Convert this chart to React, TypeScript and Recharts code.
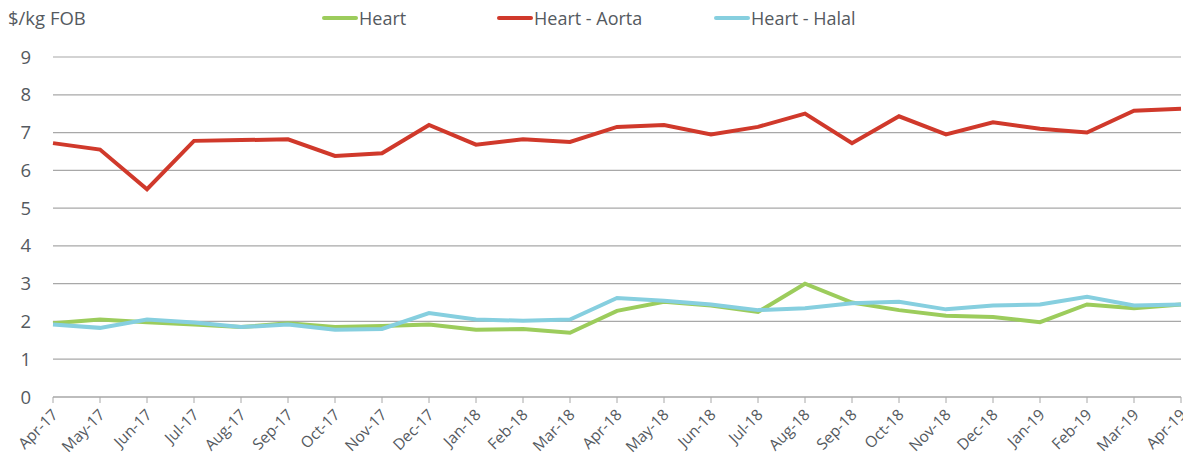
import React from "react";
import { LineChart, Line, XAxis, YAxis, CartesianGrid } from "recharts";

const months = [
  "Apr-17", "May-17", "Jun-17", "Jul-17", "Aug-17", "Sep-17", "Oct-17", "Nov-17", "Dec-17",
  "Jan-18", "Feb-18", "Mar-18", "Apr-18", "May-18", "Jun-18", "Jul-18", "Aug-18", "Sep-18",
  "Oct-18", "Nov-18", "Dec-18", "Jan-19", "Feb-19", "Mar-19", "Apr-19",
];

const heart = [
  1.95, 2.05, 1.98, 1.92, 1.85, 1.95, 1.85, 1.88, 1.92, 1.78, 1.8, 1.7, 2.28,
  2.52, 2.42, 2.25, 3.0, 2.5, 2.3, 2.15, 2.12, 1.98, 2.45, 2.35, 2.45,
];

const aorta = [
  6.72, 6.55, 5.5, 6.78, 6.8, 6.82, 6.38, 6.45, 7.2, 6.68, 6.82, 6.75, 7.15,
  7.2, 6.95, 7.15, 7.5, 6.72, 7.43, 6.95, 7.27, 7.1, 7.0, 7.58, 7.63,
];

const halal = [
  1.92, 1.83, 2.05, 1.97, 1.85, 1.92, 1.78, 1.8, 2.22, 2.05, 2.02, 2.05, 2.62,
  2.55, 2.45, 2.3, 2.35, 2.48, 2.52, 2.32, 2.42, 2.45, 2.65, 2.42, 2.45,
];

const yTicks = [0, 1, 2, 3, 4, 5, 6, 7, 8, 9];

const data = months.map((m, i) => ({
  month: m,
  heart: heart[i],
  aorta: aorta[i],
  halal: halal[i],
}));

const FONT = "'Open Sans', Lato, sans-serif";
const TEXT = "#555a5f";

const series = [
  { key: "heart", name: "Heart", color: "#9ccc5c", w: 175 },
  { key: "aorta", name: "Heart - Aorta", color: "#d0392b", w: 217 },
  { key: "halal", name: "Heart - Halal", color: "#86cfdf", w: 160 },
];

const XTick = (props: any) => {
  const { x, y, payload } = props;
  return (
    <g transform={`translate(${x + 3},${y + 8})`}>
      <text
        textAnchor="end"
        transform="rotate(-45)"
        fill={TEXT}
        fontSize={15.5}
        fontFamily={FONT}
        dy={4}
      >
        {payload.value}
      </text>
    </g>
  );
};

// legend drawn outside recharts so it doesn't push the plot down
const LegendBox = () => (
  <div
    style={{
      position: "absolute",
      top: 6,
      left: 322,
      display: "flex",
      fontFamily: FONT,
      fontSize: 18,
      color: TEXT,
    }}
  >
    {series.map((s) => (
      <div key={s.key} style={{ display: "flex", alignItems: "center", width: s.w }}>
        <span
          style={{
            display: "inline-block",
            width: 36,
            height: 4,
            borderRadius: 2,
            background: s.color,
            marginRight: 1,
          }}
        />
        <span>{s.name}</span>
      </div>
    ))}
  </div>
);

const App: React.FC = () => {
  return (
    <div style={{ position: "absolute", left: 0, top: 0, width: 1183, height: 464, background: "#fff" }}>
      <div
        style={{
          position: "absolute",
          left: 8,
          top: 5,
          fontFamily: FONT,
          fontSize: 18.5,
          color: TEXT,
        }}
      >
        $/kg FOB
      </div>
      <LegendBox />
      <LineChart
        width={1183}
        height={464}
        data={data}
        margin={{ top: 57, right: 2, left: 0, bottom: 0 }}
      >
        <CartesianGrid vertical={false} stroke="#a8a8a8" strokeWidth={1.2} />
        <XAxis
          dataKey="month"
          interval={0}
          height={67}
          tick={<XTick />}
          tickLine={{ stroke: "#a8a8a8" }}
          tickSize={6}
          axisLine={{ stroke: "#a8a8a8", strokeWidth: 1.2 }}
        />
        <YAxis
          domain={[0, 9]}
          ticks={yTicks}
          width={53}
          axisLine={false}
          tickLine={false}
          tickMargin={16}
          tick={{ fill: TEXT, fontSize: 18.5, fontFamily: FONT }}
        />
        {series.map((s) => (
          <Line
            key={s.key}
            type="linear"
            dataKey={s.key}
            name={s.name}
            stroke={s.color}
            strokeWidth={4}
            dot={false}
            isAnimationActive={false}
          />
        ))}
      </LineChart>
    </div>
  );
};

export default App;
